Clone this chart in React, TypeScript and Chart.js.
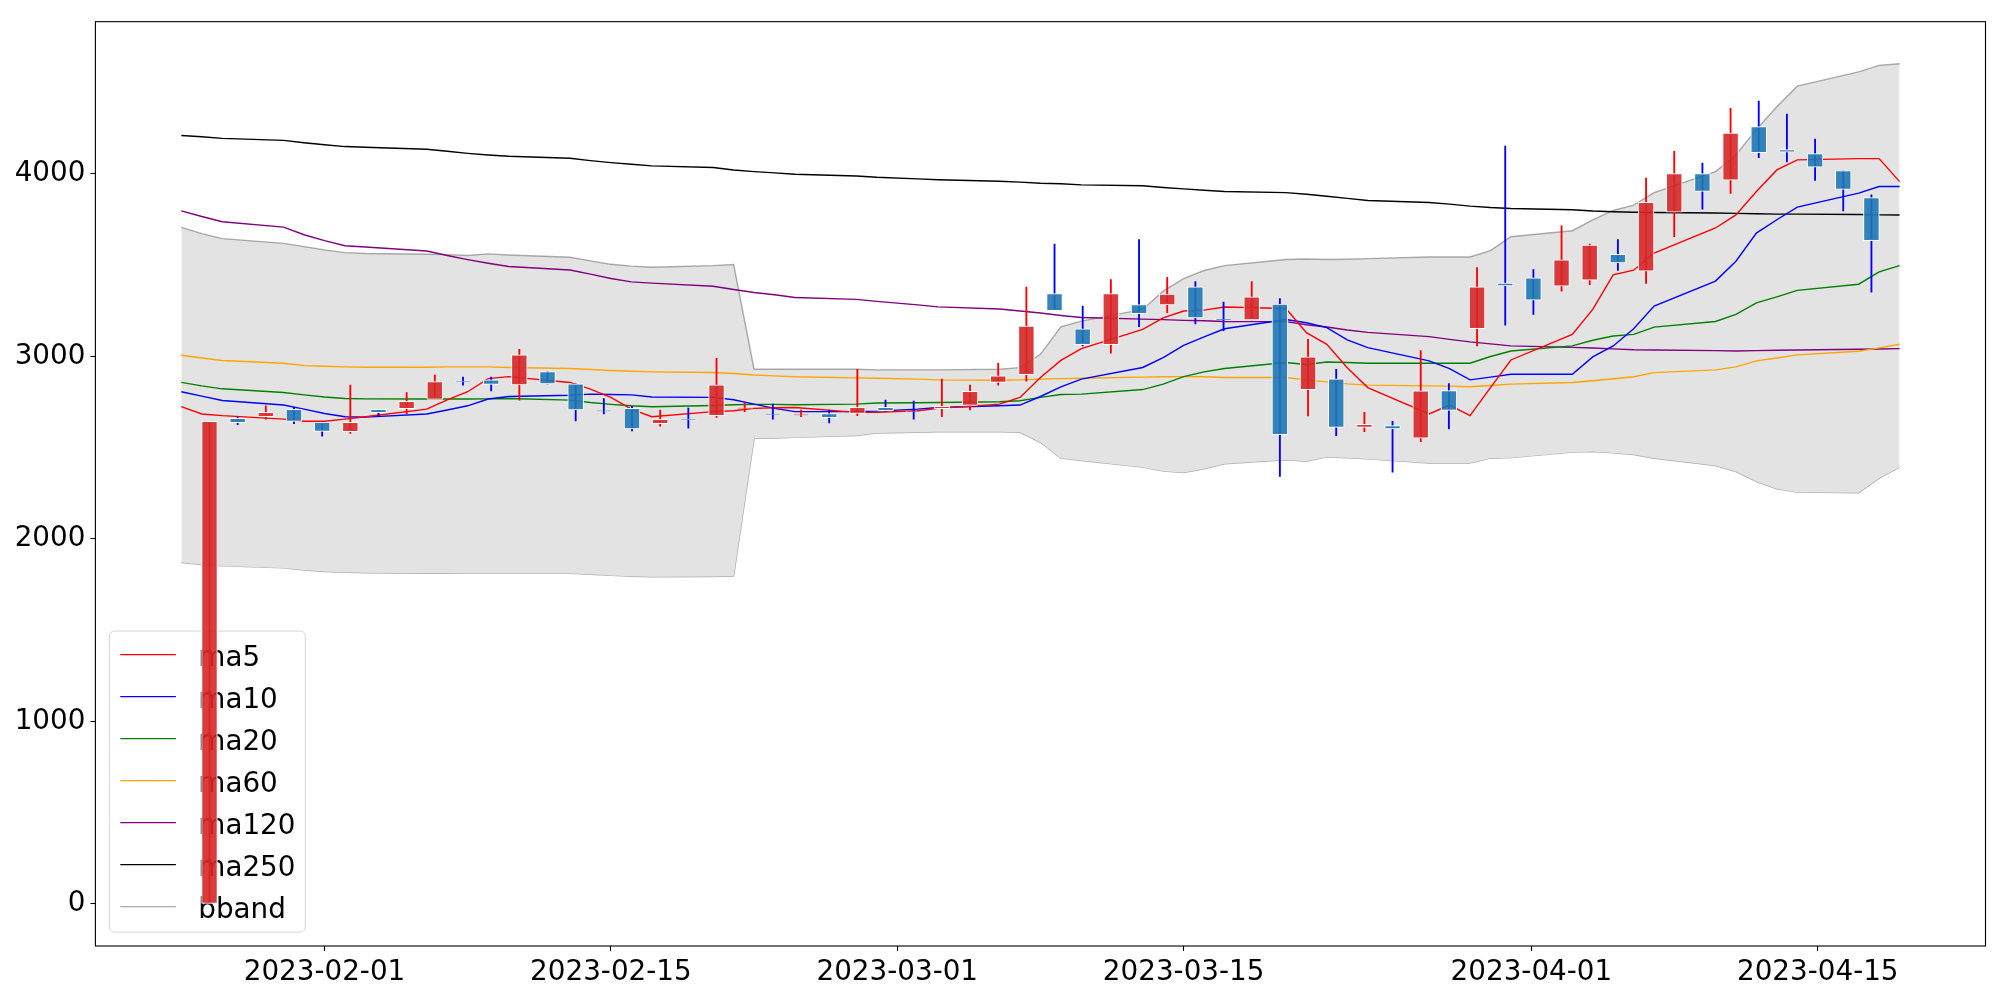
import React, { useEffect, useRef } from "react";
import { Chart, registerables } from "chart.js";

Chart.register(...registerables);

// ---------------- data ----------------
const dates = [
  "2023-01-25", "2023-01-26", "2023-01-27", "2023-01-30", "2023-01-31",
  "2023-02-01", "2023-02-02", "2023-02-03", "2023-02-06", "2023-02-07",
  "2023-02-08", "2023-02-09", "2023-02-10", "2023-02-13", "2023-02-14",
  "2023-02-15", "2023-02-16", "2023-02-17", "2023-02-20", "2023-02-21",
  "2023-02-22", "2023-02-23", "2023-02-24", "2023-02-27", "2023-02-28",
  "2023-03-02", "2023-03-03", "2023-03-06", "2023-03-07", "2023-03-08",
  "2023-03-09", "2023-03-10", "2023-03-13", "2023-03-14", "2023-03-15",
  "2023-03-16", "2023-03-17", "2023-03-20", "2023-03-21", "2023-03-22",
  "2023-03-23", "2023-03-24", "2023-03-27", "2023-03-28", "2023-03-29",
  "2023-03-30", "2023-03-31", "2023-04-03", "2023-04-04", "2023-04-05",
  "2023-04-06", "2023-04-07", "2023-04-10", "2023-04-11", "2023-04-12",
  "2023-04-13", "2023-04-14", "2023-04-17", "2023-04-18", "2023-04-19",
];

const opens = [
  0, 2660, 2669, 2709, 2640, 2587, 2709, 2713, 2764, 2864,
  2871, 2844, 2917, 2849, 2702, 2715, 2631, 2655, 2675, 2715,
  2684, 2678, 2687, 2687, 2720, 2700, 2713, 2731, 2857, 2900,
  3344, 3151, 3064, 3284, 3282, 3381, 3202, 3199, 3286, 2818,
  2877, 2611, 2620, 2551, 2813, 3151, 3401, 3430, 3384, 3417,
  3559, 3466, 3790, 4001, 3965, 4258, 4132, 4110, 4017, 3870,
];
const highs = [
  2644, 2669, 2729, 2720, 2640, 2842, 2709, 2802, 2897, 2886,
  2886, 3039, 2917, 2849, 2769, 2726, 2706, 2717, 2989, 2747,
  2738, 2706, 2706, 2929, 2760, 2755, 2875, 2842, 2962, 3379,
  3615, 3275, 3421, 3639, 3433, 3410, 3297, 3410, 3317, 3093,
  2929, 2693, 2644, 3031, 2851, 3486, 4152, 3475, 3715, 3615,
  3639, 3977, 4123, 4059, 4358, 4398, 4327, 4190, 4017, 3885,
];
const lows = [
  0, 2626, 2656, 2631, 2562, 2578, 2669, 2684, 2764, 2842,
  2811, 2760, 2849, 2646, 2684, 2591, 2618, 2607, 2666, 2697,
  2656, 2669, 2635, 2675, 2697, 2656, 2669, 2706, 2842, 2864,
  3250, 3057, 3017, 3162, 3239, 3177, 3140, 3199, 2342, 2673,
  2565, 2587, 2365, 2533, 2602, 3057, 3170, 3230, 3357, 3393,
  3470, 3399, 3655, 3806, 3892, 4088, 4065, 3963, 3797, 3352,
];
const closes = [
  2644, 2637, 2693, 2644, 2589, 2638, 2691, 2753, 2862, 2860,
  2846, 3008, 2849, 2707, 2700, 2602, 2655, 2653, 2844, 2718,
  2682, 2681, 2664, 2720, 2702, 2698, 2726, 2808, 2893, 3166,
  3250, 3064, 3344, 3233, 3341, 3211, 3200, 3326, 2571, 2997,
  2611, 2627, 2602, 2811, 2704, 3381, 3386, 3308, 3528, 3610,
  3512, 3843, 4001, 3903, 4223, 4116, 4118, 4036, 3914, 3634,
];

const ma5 = [
  2724, 2684, 2675, 2656, 2644, 2644, 2656, 2669, 2711, 2762,
  2806, 2878, 2889, 2857, 2820, 2775, 2711, 2669, 2697, 2702,
  2715, 2718, 2720, 2693, 2693, 2702, 2715, 2738, 2775, 2884,
  2978, 3042, 3148, 3211, 3248, 3253, 3270, 3262, 3130, 3066,
  2938, 2829, 2684, 2733, 2675, 2829, 2980, 3120, 3257, 3446,
  3472, 3566, 3703, 3775, 3903, 4021, 4076, 4083, 4083, 3957,
];
const ma10 = [
  2806, 2782, 2758, 2733, 2711, 2687, 2669, 2667, 2684, 2706,
  2729, 2766, 2780, 2787, 2793, 2791, 2789, 2777, 2775, 2762,
  2738, 2715, 2697, 2697, 2700, 2711, 2720, 2729, 2733, 2780,
  2833, 2875, 2939, 2993, 3060, 3106, 3151, 3202, 3184, 3157,
  3090, 3048, 2975, 2933, 2871, 2886, 2902, 2902, 2997, 3057,
  3151, 3275, 3412, 3521, 3675, 3748, 3817, 3894, 3930, 3930,
];
const ma20 = [
  2857, 2838, 2822, 2802, 2789, 2777, 2769, 2767, 2766, 2766,
  2766, 2767, 2769, 2760, 2747, 2737, 2729, 2724, 2731, 2735,
  2737, 2737, 2735, 2738, 2744, 2746, 2747, 2751, 2757, 2775,
  2791, 2793, 2818, 2848, 2889, 2915, 2933, 2966, 2955, 2969,
  2966, 2962, 2962, 2962, 2962, 2999, 3029, 3057, 3088, 3111,
  3120, 3160, 3191, 3230, 3293, 3326, 3361, 3395, 3463, 3497,
];
const ma60 = [
  3006, 2991, 2977, 2962, 2949, 2946, 2942, 2940, 2940, 2942,
  2942, 2942, 2939, 2933, 2928, 2922, 2918, 2915, 2911, 2906,
  2898, 2893, 2888, 2882, 2880, 2875, 2871, 2869, 2871, 2875,
  2878, 2880, 2886, 2888, 2889, 2888, 2884, 2884, 2871, 2860,
  2849, 2842, 2838, 2837, 2833, 2840, 2848, 2857, 2866, 2877,
  2888, 2911, 2926, 2942, 2975, 2991, 3008, 3028, 3046, 3066,
];
const ma120 = [
  3797, 3766, 3737, 3708, 3666, 3634, 3606, 3599, 3577, 3552,
  3530, 3510, 3492, 3473, 3450, 3426, 3408, 3401, 3384, 3366,
  3350, 3337, 3322, 3312, 3301, 3282, 3271, 3259, 3248, 3237,
  3224, 3213, 3204, 3201, 3197, 3195, 3191, 3190, 3173, 3161,
  3144, 3131, 3108, 3093, 3079, 3068, 3057, 3049, 3046, 3041,
  3036, 3035, 3031, 3029, 3031, 3033, 3035, 3039, 3040, 3042,
];
const ma250 = [
  4210, 4203, 4194, 4183, 4170, 4159, 4149, 4145, 4134, 4123,
  4112, 4103, 4096, 4085, 4072, 4061, 4052, 4043, 4034, 4021,
  4012, 4005, 3997, 3988, 3981, 3972, 3967, 3959, 3954, 3948,
  3945, 3939, 3934, 3925, 3917, 3910, 3903, 3897, 3888, 3877,
  3865, 3854, 3843, 3834, 3823, 3815, 3810, 3803, 3796, 3792,
  3789, 3788, 3785, 3783, 3781, 3779, 3779, 3777, 3775, 3774,
];
const bandUpper = [
  3706, 3672, 3645, 3619, 3601, 3583, 3568, 3563, 3559, 3557,
  3552, 3561, 3555, 3543, 3523, 3504, 3494, 3488, 3497, 3503,
  2929, 2929, 2929, 2929, 2926, 2926, 2926, 2929, 2938, 3011,
  3162, 3193, 3257, 3357, 3426, 3470, 3497, 3530, 3533, 3530,
  3532, 3535, 3544, 3544, 3544, 3579, 3655, 3688, 3748, 3799,
  3828, 3897, 4012, 4103, 4243, 4367, 4480, 4558, 4594, 4603,
];
const bandLower = [
  1871, 1860, 1852, 1841, 1829, 1821, 1817, 1814, 1812, 1812,
  1811, 1811, 1811, 1811, 1806, 1800, 1795, 1792, 1794, 1796,
  2551, 2553, 2556, 2566, 2580, 2584, 2587, 2587, 2584, 2529,
  2442, 2429, 2393, 2371, 2364, 2384, 2411, 2433, 2425, 2449,
  2444, 2438, 2416, 2416, 2416, 2442, 2445, 2475, 2478, 2471,
  2462, 2442, 2402, 2369, 2314, 2274, 2256, 2253, 2333, 2393,
];

const xTickLabels = ["2023-02-01", "2023-02-15", "2023-03-01", "2023-03-15", "2023-04-01", "2023-04-15"];
const yTickValues = [0, 1000, 2000, 3000, 4000];

const maLabels = ["ma5", "ma10", "ma20", "ma60", "ma120", "ma250"];
const maValues = [ma5, ma10, ma20, ma60, ma120, ma250];
const bandLabel = "bband";

// ---------------- styles ----------------
const maColors = ["#ff0000", "#0000ff", "#008000", "#ffa500", "#800080", "#000000"];
const BAND_EDGE = "rgba(128,128,128,0.65)";
const BAND_FILL = "#e3e3e3";
const UP_BODY = "rgba(214,39,40,0.9)";
const DOWN_BODY = "rgba(31,119,180,0.9)";
const UP_WICK = "#ff0000";
const DOWN_WICK = "#0000ff";
const FONT_FAMILY = "'DejaVu Sans', sans-serif";
const FS = 27.8;

const toDay = (s: string) =>
  Date.UTC(+s.slice(0, 4), +s.slice(5, 7) - 1, +s.slice(8, 10)) / 864e5;

export default function App() {
  const canvasRef = useRef<HTMLCanvasElement | null>(null);

  useEffect(() => {
    const canvas = canvasRef.current;
    if (!canvas) return;

    const days = dates.map(toDay);
    const first = days[0];
    const last = days[days.length - 1];
    const dSpan = last - first;
    const n = dates.length;
    const iLo = -1;
    const iHi = n;
    const iSpan = iHi - iLo;

    const allV = [...lows, ...highs, ...bandUpper, ...bandLower, ...ma250, ...ma120];
    const vMin = Math.min(...allV);
    const vMax = Math.max(...allV);
    const vPad = 0.05 * (vMax - vMin);

    const isUp = closes.map((c, i) => c >= opens[i]);
    const pts = (vals: number[]) => vals.map((v, i) => ({ x: days[i], y: v }));

    const datasets: any[] = [];
    datasets.push({
      type: "line", label: bandLabel, data: pts(bandUpper), borderColor: BAND_EDGE, borderWidth: 1.4,
      backgroundColor: BAND_FILL, fill: "+1", pointRadius: 0, tension: 0, order: 10, xAxisID: "x", yAxisID: "y",
    });
    datasets.push({
      type: "line", label: bandLabel + "_lower", data: pts(bandLower), borderColor: BAND_EDGE, borderWidth: 1.4,
      fill: false, pointRadius: 0, tension: 0, order: 10, xAxisID: "x", yAxisID: "y",
    });
    maValues.forEach((vals, k) => {
      datasets.push({
        type: "line", label: maLabels[k], data: pts(vals), borderColor: maColors[k], borderWidth: 1.4,
        fill: false, pointRadius: 0, tension: 0, order: 5, xAxisID: "x", yAxisID: "y",
      });
    });
    const WICK_IDX = datasets.length;
    datasets.push({
      type: "bar", label: "wick", data: opens.map((_, i) => ({ x: i, y: [lows[i], highs[i]] })),
      backgroundColor: isUp.map((u) => (u ? UP_WICK : DOWN_WICK)), borderWidth: 0, barThickness: 1.2,
      grouped: false, order: 2, xAxisID: "xi", yAxisID: "y",
    });
    datasets.push({
      type: "bar", label: "body", data: opens.map((o, i) => ({ x: i, y: [o, closes[i]] })),
      backgroundColor: isUp.map((u) => (u ? UP_BODY : DOWN_BODY)), borderColor: "#ffffff", borderWidth: 1,
      borderSkipped: false, barThickness: 15.8, grouped: false, order: 1, xAxisID: "xi", yAxisID: "y",
    });

    const legendItems = [
      ...maLabels.map((l, k) => ({ label: l, color: maColors[k] })),
      { label: bandLabel, color: BAND_EDGE },
    ];

    const legendPlugin = {
      id: "mplLegend",
      beforeDatasetDraw(chart: any, args: any) {
        if (args.index !== WICK_IDX) return;
        const { ctx, chartArea: a } = chart;
        const pad = 13.9;
        const bw = 196;
        const bh = 301;
        const bx = a.left + pad;
        const by = a.bottom - pad - bh;
        ctx.save();
        ctx.beginPath();
        if (ctx.roundRect) ctx.roundRect(bx, by, bw, bh, 5);
        else ctx.rect(bx, by, bw, bh);
        ctx.fillStyle = "rgba(255,255,255,0.8)";
        ctx.fill();
        ctx.strokeStyle = "#d6d6d6";
        ctx.lineWidth = 1;
        ctx.stroke();
        legendItems.forEach((it, k) => {
          const cy = by + 23.5 + k * 42;
          ctx.strokeStyle = it.color;
          ctx.lineWidth = 1.4;
          ctx.beginPath();
          ctx.moveTo(bx + 11, cy);
          ctx.lineTo(bx + 66.6, cy);
          ctx.stroke();
          ctx.fillStyle = "#000";
          ctx.font = `${FS}px ${FONT_FAMILY}`;
          ctx.textBaseline = "alphabetic";
          ctx.textAlign = "left";
          ctx.fillText(it.label, bx + 89, cy + 11);
        });
        ctx.restore();
      },
    };

    const framePlugin = {
      id: "frame",
      afterDraw(chart: any) {
        const { ctx, chartArea: a } = chart;
        ctx.save();
        ctx.strokeStyle = "#000";
        ctx.lineWidth = 1.1;
        ctx.strokeRect(a.left, a.top, a.right - a.left, a.bottom - a.top);
        ctx.restore();
      },
    };

    const gridOpts = {
      drawOnChartArea: false, drawTicks: true, tickLength: 5, tickColor: "#000", tickWidth: 1.1,
    };

    const chart = new Chart(canvas, {
      type: "line",
      data: { datasets },
      options: {
        animation: false,
        responsive: false,
        devicePixelRatio: 1,
        events: [],
        layout: { padding: { top: 20.3, right: 14.5, left: 0, bottom: 0 } },
        plugins: { legend: { display: false }, tooltip: { enabled: false } },
        scales: {
          x: {
            type: "linear", position: "bottom", offset: false,
            min: first - 0.05 * dSpan, max: last + 0.05 * dSpan,
            grid: gridOpts, border: { display: false },
            ticks: {
              autoSkip: false, maxRotation: 0, minRotation: 0, padding: 5, color: "#000",
              font: { family: FONT_FAMILY, size: FS },
              callback: (_v: any, i: number) => xTickLabels[i] ?? "",
            },
            afterBuildTicks: (s: any) => { s.ticks = xTickLabels.map((l) => ({ value: toDay(l) })); },
            afterFit: (s: any) => { s.height = 54; },
          },
          xi: {
            type: "linear", display: false, offset: false,
            min: iLo - 0.05 * iSpan, max: iHi + 0.05 * iSpan,
          },
          y: {
            type: "linear", position: "left",
            min: vMin - vPad, max: vMax + vPad,
            grid: gridOpts, border: { display: false },
            ticks: {
              padding: 5, color: "#000", font: { family: FONT_FAMILY, size: FS },
              callback: (v: any) => String(v),
            },
            afterBuildTicks: (s: any) => { s.ticks = yTickValues.map((v) => ({ value: v })); },
            afterFit: (s: any) => { s.width = 95.4; },
          },
        },
      } as any,
      plugins: [legendPlugin, framePlugin],
    });

    return () => chart.destroy();
  }, []);

  return (
    <div style={{ position: "fixed", left: 0, top: 0, width: 2000, height: 1000, background: "#fff" }}>
      <canvas ref={canvasRef} width={2000} height={1000} style={{ display: "block", width: 2000, height: 1000 }} />
    </div>
  );
}
